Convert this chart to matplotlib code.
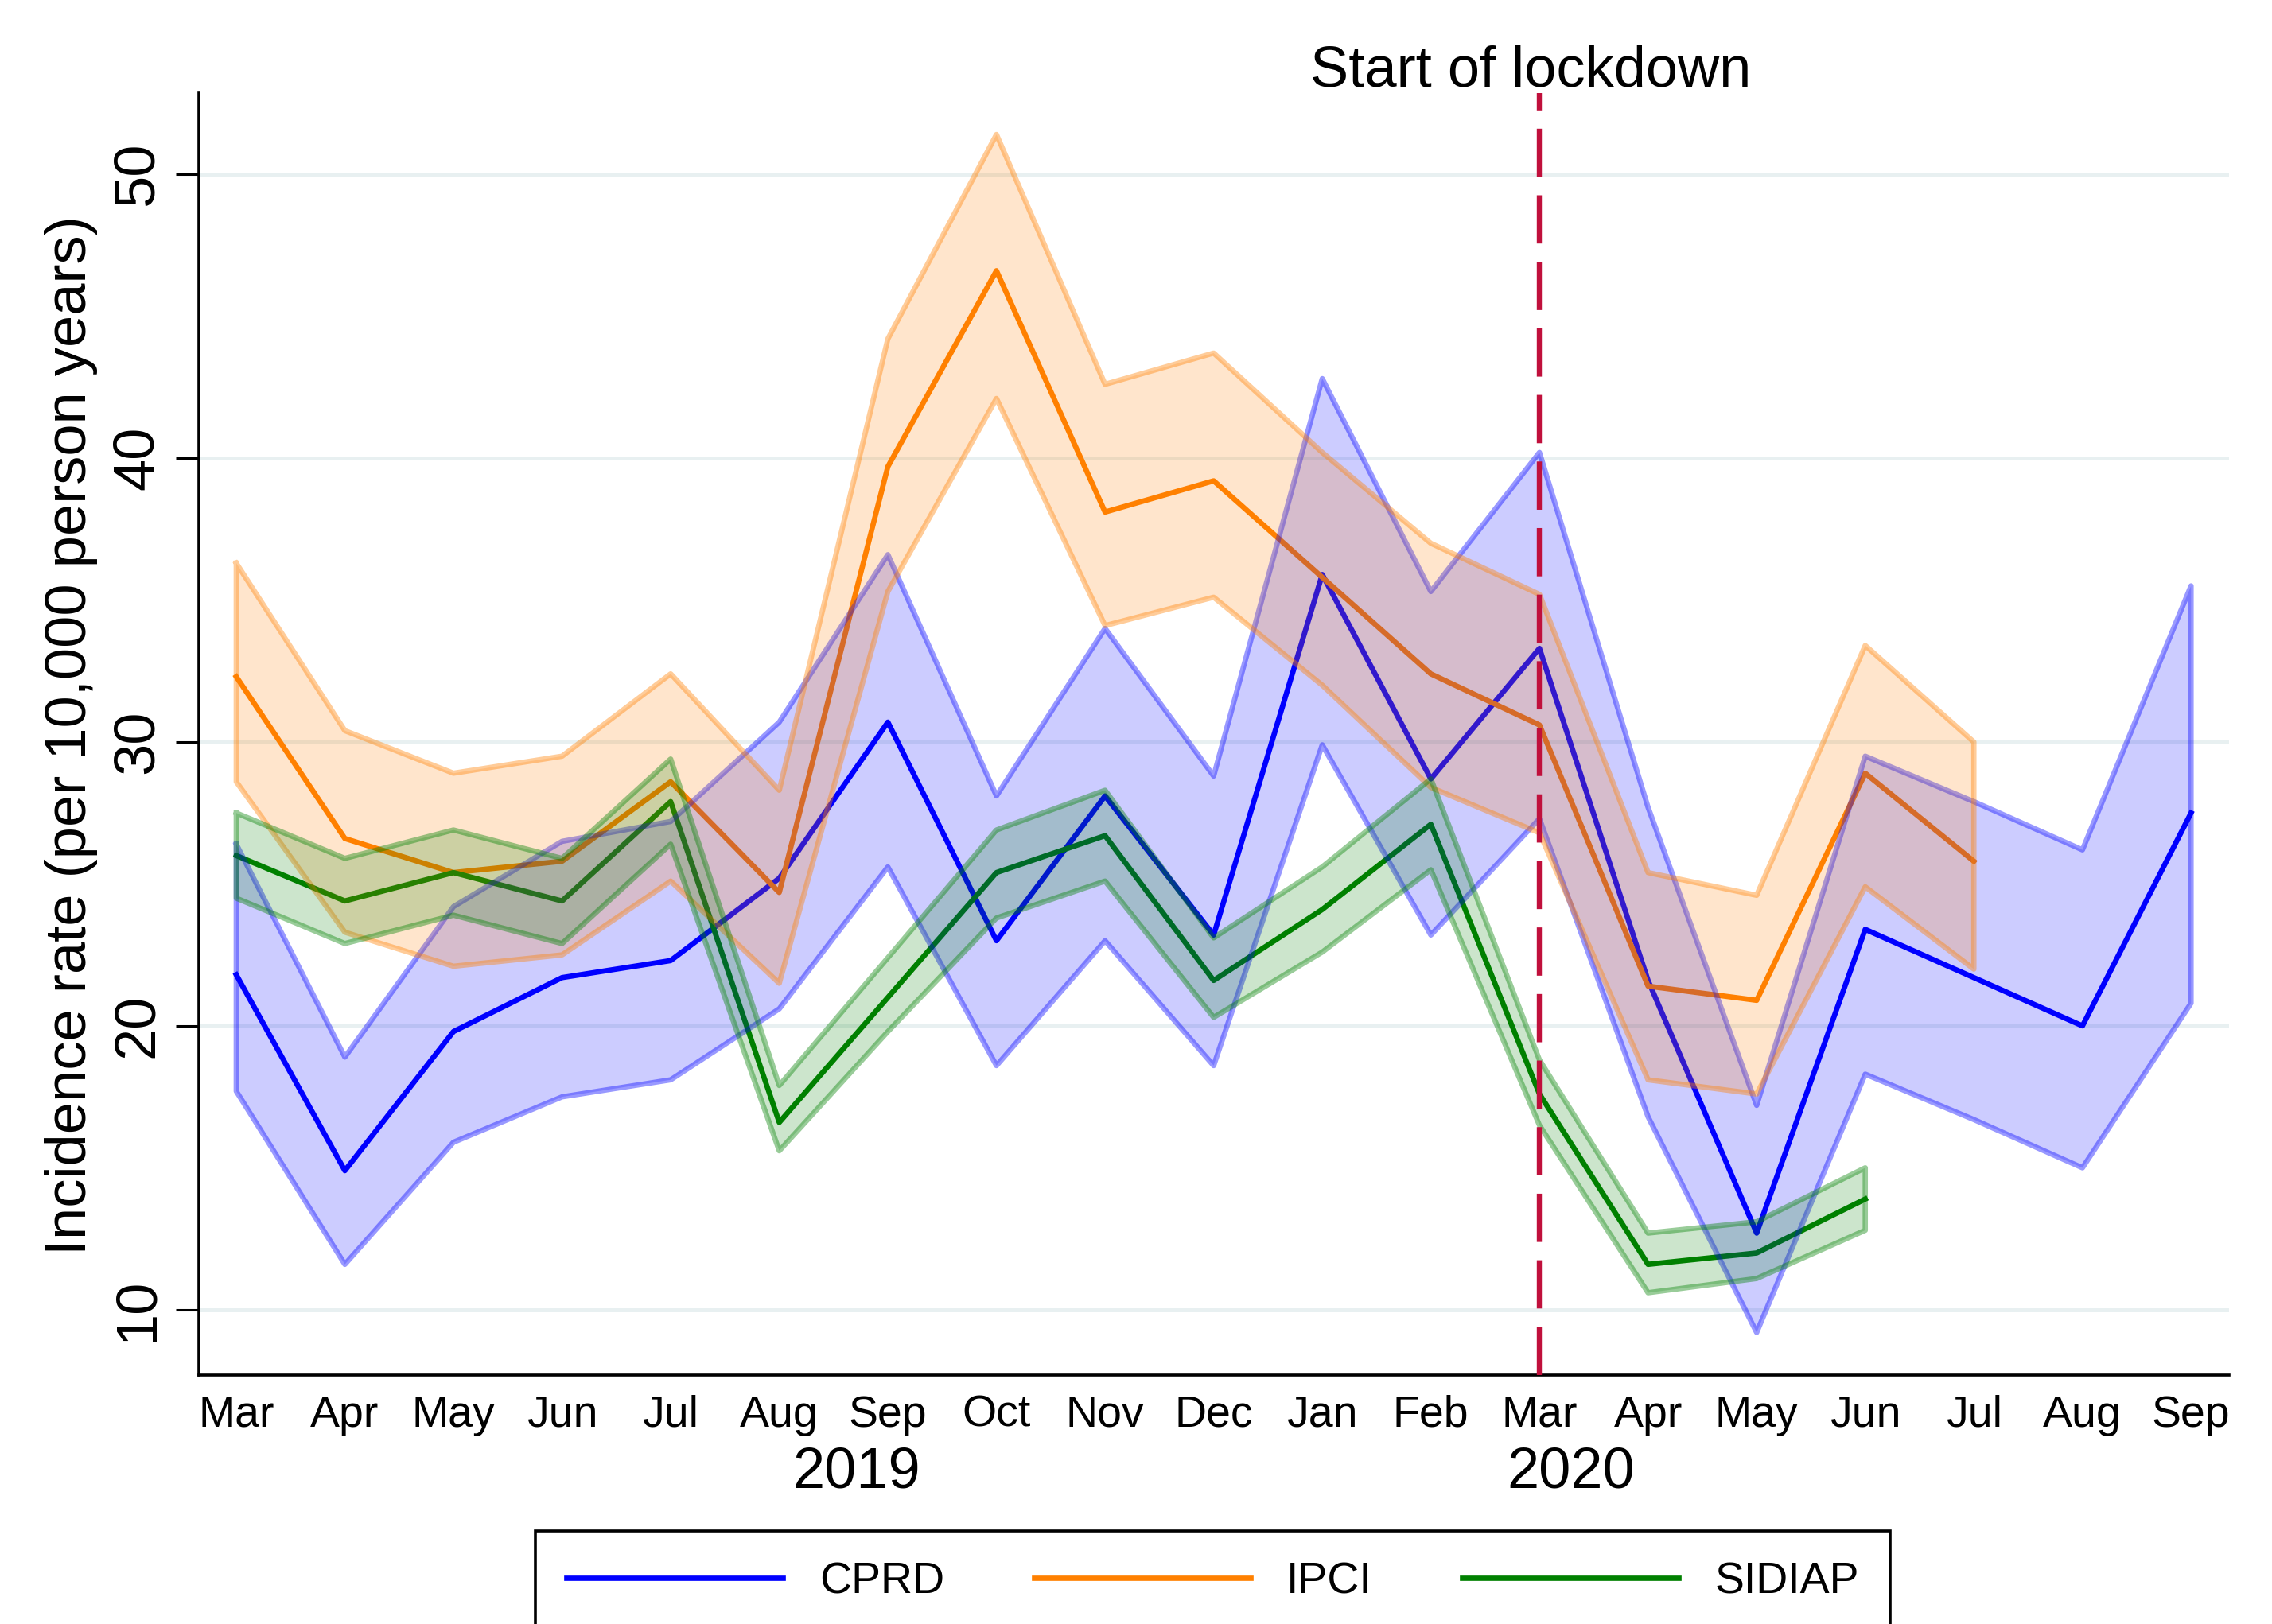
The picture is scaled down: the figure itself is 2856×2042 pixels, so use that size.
import numpy as np
import matplotlib
matplotlib.use("Agg")
import matplotlib.pyplot as plt

plt.rcParams['font.family'] = ['Liberation Sans', 'DejaVu Sans']

# month index 0 = Mar 2019 ... 18 = Sep 2020
month_labels = ["Mar", "Apr", "May", "Jun", "Jul", "Aug", "Sep", "Oct", "Nov", "Dec",
                "Jan", "Feb", "Mar", "Apr", "May", "Jun", "Jul", "Aug", "Sep"]

cprd_ir = [21.8, 14.9, 19.8, 21.7, 22.3, 25.2, 30.7, 23.0, 28.1, 23.2,
           35.9, 28.7, 33.3, 21.6, 12.7, 23.4, 21.7, 20.0, 27.5]
cprd_hi = [26.4, 18.9, 24.2, 26.5, 27.2, 30.7, 36.6, 28.1, 34.0, 28.8,
           42.8, 35.3, 40.2, 27.7, 17.2, 29.5, 27.9, 26.2, 35.5]
cprd_lo = [17.7, 11.6, 15.9, 17.5, 18.1, 20.6, 25.6, 18.6, 23.0, 18.6,
           29.9, 23.2, 27.3, 16.8, 9.2, 18.3, 16.7, 15.0, 20.8]

ipci_ir = [32.3, 26.6, 25.4, 25.8, 28.6, 24.7, 39.7, 46.6, 38.1, 39.2,
           35.8, 32.4, 30.6, 21.4, 20.9, 28.9, 25.8]
ipci_hi = [36.3, 30.4, 28.9, 29.5, 32.4, 28.3, 44.2, 51.4, 42.6, 43.7,
           40.2, 37.0, 35.2, 25.4, 24.6, 33.4, 30.0]
ipci_lo = [28.6, 23.3, 22.1, 22.5, 25.1, 21.5, 35.3, 42.1, 34.1, 35.1,
           32.0, 28.4, 26.8, 18.1, 17.6, 24.9, 22.0]

sidiap_ir = [26.0, 24.4, 25.4, 24.4, 27.9, 16.6, 21.0, 25.4, 26.7, 21.6,
             24.1, 27.1, 17.6, 11.6, 12.0, 13.9]
sidiap_hi = [27.5, 25.9, 26.9, 25.9, 29.4, 17.9, 22.4, 26.9, 28.3, 23.1,
             25.6, 28.7, 18.8, 12.7, 13.1, 15.0]
sidiap_lo = [24.5, 22.9, 23.9, 22.9, 26.4, 15.6, 19.8, 23.8, 25.1, 20.3,
             22.6, 25.5, 16.5, 10.6, 11.1, 12.8]

series = [("CPRD", "#0000ff", cprd_ir, cprd_lo, cprd_hi),
          ("IPCI", "#ff8000", ipci_ir, ipci_lo, ipci_hi),
          ("SIDIAP", "#008000", sidiap_ir, sidiap_lo, sidiap_hi)]

fig = plt.figure(figsize=(14.28, 10.21), dpi=200)
ax = fig.add_axes([0.0875, 0.1533, 0.8936, 0.7894])

handles = []
for name, col, ir, lo, hi in series:
    x = np.arange(len(ir))
    h, = ax.plot(x, ir, color=col, lw=2.4, zorder=3, label=name)
    handles.append(h)

# confidence bands drawn over all lines (as in the original)
for name, col, ir, lo, hi in series:
    x = np.arange(len(ir))
    ax.fill_between(x, lo, hi, facecolor=col, alpha=0.2, lw=0, zorder=4)
    px = np.concatenate([x, x[::-1], x[:1]])
    py = np.concatenate([hi, lo[::-1], hi[:1]])
    ax.plot(px, py, color=col, alpha=0.4, lw=2.4, zorder=4)

ax.axvline(12, color="#c0103c", lw=2.3, dashes=(9.5, 3.6), zorder=5)
ax.annotate("Start of lockdown", xy=(12, 1), xycoords=('data', 'axes fraction'),
            xytext=(-4, 3), textcoords='offset points', ha='center', va='baseline',
            fontsize=26)

ax.set_xlim(-0.345, 18.35)
ax.set_ylim(7.7, 52.86)
ax.set_yticks([10, 20, 30, 40, 50])
ax.set_xticks(np.arange(len(month_labels)))
ax.set_xticklabels(month_labels, fontsize=20)
ax.tick_params(axis='x', length=0, pad=9)
ax.tick_params(axis='y', length=10.4, width=1.1, labelsize=26, labelrotation=90, pad=5)
for t in ax.get_yticklabels():
    t.set_va('center')

ax.grid(axis='y', color="#e8f0f1", lw=1.8, zorder=0)
ax.set_axisbelow(True)
for s in ["top", "right"]:
    ax.spines[s].set_visible(False)
for s in ["left", "bottom"]:
    ax.spines[s].set_linewidth(1.3)

ax.set_ylabel("Incidence rate (per 10,000 person years)", fontsize=26, va='baseline')
ax.yaxis.set_label_coords(-0.0557, 0.4988)

yt = ax.get_xaxis_transform()
ax.text(5.71, -0.0875, "2019", transform=yt, ha='center', va='baseline', fontsize=26)
ax.text(12.29, -0.0875, "2020", transform=yt, ha='center', va='baseline', fontsize=26)

leg = fig.legend(handles=handles, loc='upper center', bbox_to_anchor=(0.5338, 0.0573),
                 ncol=3, fontsize=20, handlelength=4.9, handletextpad=0.82,
                 columnspacing=2.03, borderpad=0.7, borderaxespad=0, fancybox=False,
                 framealpha=1, edgecolor='black')
leg.get_frame().set_linewidth(1.3)

fig.savefig("out.png", dpi=200)
